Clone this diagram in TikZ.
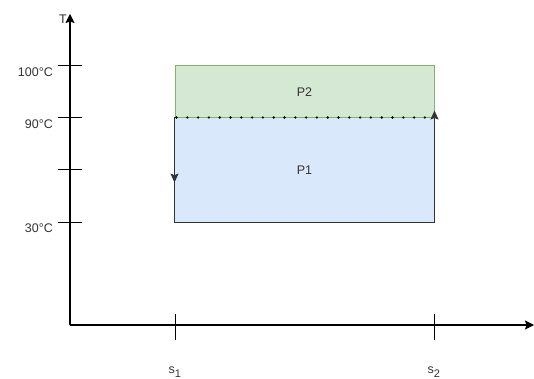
\documentclass[tikz,border=0pt]{standalone}
\usepackage{fontspec}
\setmainfont{Liberation Sans}
\usetikzlibrary{arrows.meta, positioning, decorations.markings}
\definecolor{greenfill}{HTML}{D5E8D4}
\definecolor{greenline}{HTML}{82B366}
\definecolor{bluefill}{HTML}{DAE8FC}
\definecolor{textgray}{HTML}{333333}

\begin{document}
\begin{tikzpicture}[
    x=1pt, y=-1pt,
    font=\fontsize{12.5}{15}\selectfont, text=textgray,
    axis/.style={draw, line width=1.1pt, -{Stealth[length=9pt, width=9pt, inset=1.5pt]}},
    tick/.style={draw, line width=1pt},
    region/.style={rectangle, minimum width=259pt, minimum height=52pt, inner sep=0pt, line width=1pt},
    cycleline/.style={draw=textgray, line width=1.1pt},
    midarrow/.style={postaction={decorate}, decoration={markings,
        mark=at position 0.62 with {\arrow{Stealth[length=9pt, width=8pt, inset=1.5pt]}}}},
    label/.style={inner sep=1pt}
]
\useasboundingbox (0,0) rectangle (534,379);

% Axes
\coordinate (origin) at (70,325);
\coordinate (ytop) at (70,14);
\coordinate (xend) at (534,325);
\draw[axis] (origin) -- (ytop);
\draw[axis] (origin) -- (xend);
\node[label, left=2pt of ytop, yshift=-5pt] (tlab) {T};

% Temperature ticks
\foreach \y/\txt/\name in {66/100°C/t100, 118/90°C/t90, 170//t60, 222/30°C/t30}{
    \draw[tick] (58,\y) -- (82,\y);
    \node[label, anchor=east] (\name) at (54,\y+6) {\txt};
}

% Entropy ticks
\foreach \x/\idx in {175/1, 434/2}{
    \draw[tick] (\x,314) -- (\x,340);
    \node[label] (s\idx) at (\x,372) {s\textsubscript{\fontsize{11}{13}\selectfont\idx}};
}

% Regions
\node[region, fill=bluefill, minimum height=104pt] (p1) at (304.5,170) {P1};
\node[region, fill=greenfill, draw=greenline] (p2) at (304.5,92) {P2};

% Cycle
\draw[cycleline, midarrow] (p1.north west) -- (p1.south west);
\draw[cycleline, -{Stealth[length=9pt, width=8pt, inset=1.5pt]}] (p1.south west) -- (p1.south east) -- ([yshift=7pt]p1.north east);
\draw[line width=2.6pt, dash pattern=on 0pt off 10.8pt, line cap=round] ([xshift=2pt]p1.north west) -- (p1.north east);

\end{tikzpicture}
\end{document}
